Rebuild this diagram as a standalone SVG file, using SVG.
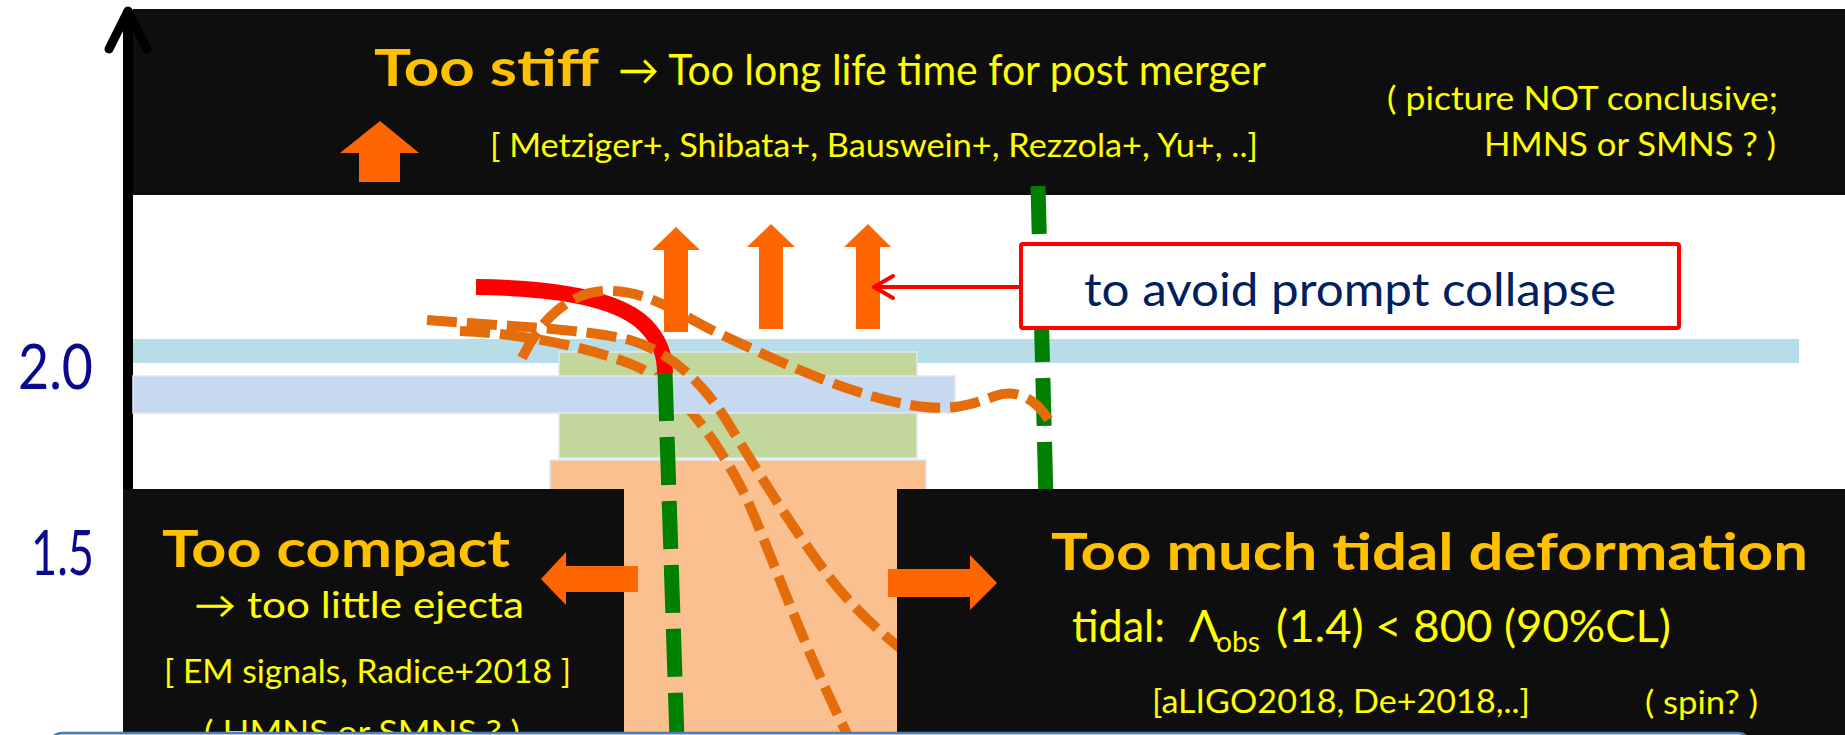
<svg xmlns="http://www.w3.org/2000/svg" width="1845" height="735" viewBox="0 0 1845 735">
<defs>
<style>
.blk{fill:#0e0e0e}
.t{font-family:Lato,"Open Sans","Liberation Sans",sans-serif}
.y{fill:#ffff00}
.am{fill:#ffc000;font-weight:bold}
.nv{fill:#0a0a8c}
.oa{fill:#ff6600}
.od{fill:none;stroke:#e46c0a;stroke-width:10;stroke-dasharray:30 10}
.gd{fill:none;stroke:#008000;stroke-width:15;stroke-dasharray:48 16}
.band{stroke:#dfe8f3;stroke-width:1.5}
</style>
</defs>
<rect width="1845" height="735" fill="#ffffff"/>

<g id="top-box">
<rect class="blk" x="133" y="9" width="1712" height="186"/>
</g>

<g id="axis">
<line x1="128" y1="10" x2="128" y2="490" stroke="#000" stroke-width="10"/>
<polyline points="109,49 128,11 147,49" fill="none" stroke="#000" stroke-width="9" stroke-linecap="round" stroke-linejoin="round"/>
<text class="t nv" x="18" y="389" font-size="62" textLength="75" lengthAdjust="spacingAndGlyphs">2.0</text>
<text class="t nv" x="31" y="575" font-size="62" textLength="63" lengthAdjust="spacingAndGlyphs">1.5</text>
</g>

<g id="bands">
<rect id="band-lightblue" x="133" y="339" width="1666" height="24" fill="#b7dde8"/>
<rect id="box-green" class="band" x="559" y="352" width="358" height="106" fill="#c3d69b"/>
<rect id="box-peach" class="band" x="550" y="460" width="376" height="280" fill="#fac090"/>
</g>

<g id="curve-d">
<path class="od" d="M460,331 C530,334 600,350 640,368 C680,388 720,445 745,495 C770,550 800,640 850,740"/>
</g>

<g id="band-steel">
<rect class="band" x="133" y="376" width="822" height="37" fill="#c6d9f0"/>
</g>

<g id="curve-red">
<path d="M476,287 C560,288 620,300 645,325 C660,340 665,355 665,373" fill="none" stroke="#ff0000" stroke-width="16"/>
</g>

<g id="green-lines">
<path class="gd" d="M665,373 L677,740"/>
<path class="gd" d="M1038,186 L1046,500"/>
</g>

<g id="curves-orange">
<path class="od" d="M427,320 C500,326 580,328 630,340 C670,352 700,380 725,418 C760,475 790,525 830,578 C855,610 880,632 905,652"/>
<path class="od" d="M522,358 C540,320 570,292 605,291 C650,290 680,315 720,334 C780,362 850,395 910,405 C950,412 970,405 995,396 C1015,389 1035,397 1050,422"/>
</g>

<g id="box-compact">
<rect class="blk" x="123" y="489" width="501" height="246"/>
<text class="t am" x="162" y="567" font-size="51" textLength="348" lengthAdjust="spacingAndGlyphs">Too compact</text>
<text class="t y" x="194" y="618" font-size="37" textLength="330" lengthAdjust="spacingAndGlyphs">→  too little ejecta</text>
<text class="t y" x="164" y="683" font-size="33" textLength="407" lengthAdjust="spacingAndGlyphs">[ EM signals, Radice+2018 ]</text>
<text class="t y" x="204" y="744" font-size="33" textLength="316" lengthAdjust="spacingAndGlyphs">( HMNS or SMNS ? )</text>
</g>

<g id="box-tidal">
<rect class="blk" x="897" y="489" width="948" height="246"/>
<text class="t am" x="1051" y="570" font-size="51" textLength="757" lengthAdjust="spacingAndGlyphs">Too much tidal deformation</text>
<text class="t y" x="1072" y="642" font-size="45" textLength="93" lengthAdjust="spacingAndGlyphs">tidal:</text>
<text class="t y" x="1189" y="642" font-size="45">Λ</text>
<text class="t y" x="1216" y="652" font-size="28" textLength="44" lengthAdjust="spacingAndGlyphs">obs</text>
<text class="t y" x="1276" y="642" font-size="45" textLength="395" lengthAdjust="spacingAndGlyphs">(1.4) &lt; 800 (90%CL)</text>
<text class="t y" x="1152" y="713" font-size="33" textLength="378" lengthAdjust="spacingAndGlyphs">[aLIGO2018, De+2018,..]</text>
<text class="t y" x="1645" y="714" font-size="33" textLength="113" lengthAdjust="spacingAndGlyphs">( spin? )</text>
</g>

<g id="top-texts">
<text class="t am" x="374" y="86" font-size="51" textLength="225" lengthAdjust="spacingAndGlyphs">Too stiff</text>
<text class="t y" x="618" y="85" font-size="42" textLength="648" lengthAdjust="spacingAndGlyphs">→  Too long life time for post merger</text>
<text class="t y" x="490" y="157" font-size="32" textLength="768" lengthAdjust="spacingAndGlyphs">[ Metziger+, Shibata+, Bauswein+, Rezzola+,  Yu+, ..]</text>
<text class="t y" x="1387" y="110" font-size="32" textLength="391" lengthAdjust="spacingAndGlyphs">( picture NOT conclusive;</text>
<text class="t y" x="1484" y="156" font-size="32" textLength="292" lengthAdjust="spacingAndGlyphs">HMNS or SMNS ? )</text>
</g>

<g id="block-arrows">
<polygon class="oa" points="380,121 419,153 400,153 400,182 359,182 359,153 340,153"/>
<polygon class="oa" points="676,227 700,250 688,250 688,332 664,332 664,250 652,250"/>
<polygon class="oa" points="771,224 795,247 783,247 783,329 759,329 759,247 747,247"/>
<polygon class="oa" points="868,224 891,247 880,247 880,329 856,329 856,247 844,247"/>
<polygon class="oa" points="541,579 566,552 566,566 638,566 638,592 566,592 566,605"/>
<polygon class="oa" points="997,583 970,555 970,569 888,569 888,597 970,597 970,610"/>
</g>

<g id="connectors">
<line x1="1026" y1="287" x2="875" y2="287" stroke="#ff0000" stroke-width="4"/>
<polyline points="893,276 874,287 893,298" fill="none" stroke="#ff0000" stroke-width="4" stroke-linecap="round" stroke-linejoin="round"/>
</g>

<g id="callout">
<rect x="1021" y="244" width="658" height="84" rx="2" fill="#ffffff" stroke="#ff0000" stroke-width="4"/>
<text class="t" x="1084" y="306" font-size="46" fill="#002060" textLength="532" lengthAdjust="spacingAndGlyphs">to avoid prompt collapse</text>
</g>

<g id="bottom-box">
<rect x="50" y="733" width="1700" height="40" rx="12" fill="#dbe5f1" stroke="#4a7ebb" stroke-width="2.5"/>
</g>
</svg>
